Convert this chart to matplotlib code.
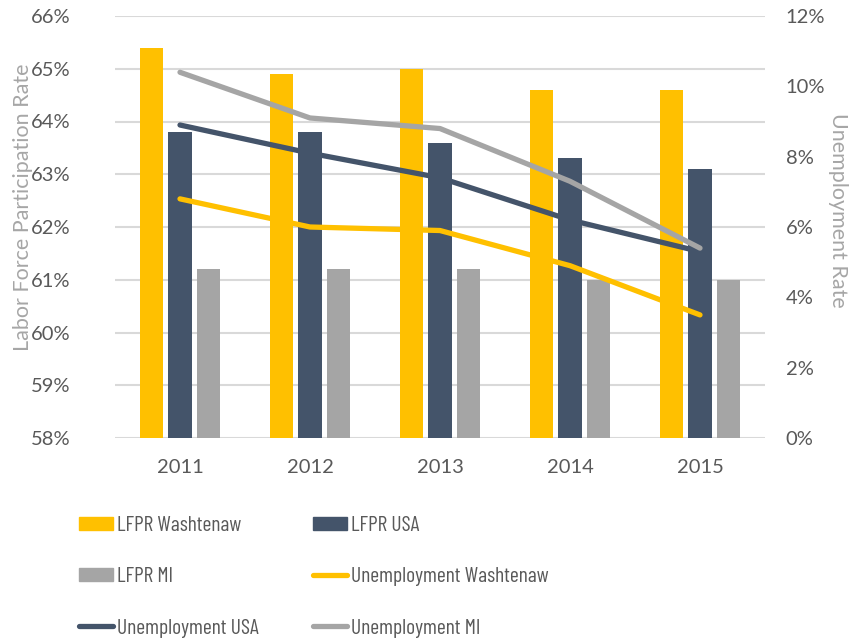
import matplotlib
matplotlib.use("Agg")
import matplotlib.pyplot as plt
import numpy as np
from matplotlib.patches import Patch
from matplotlib.lines import Line2D

years = ["2011", "2012", "2013", "2014", "2015"]
lfpr_washtenaw = [65.4, 64.9, 65.0, 64.6, 64.6]
lfpr_usa = [63.8, 63.8, 63.6, 63.3, 63.1]
lfpr_mi = [61.2, 61.2, 61.2, 61.0, 61.0]
unemp_washtenaw = [6.8, 6.0, 5.9, 4.9, 3.5]
unemp_usa = [8.9, 8.1, 7.4, 6.2, 5.3]
unemp_mi = [10.4, 9.1, 8.8, 7.3, 5.4]

c_yellow = "#FFC000"
c_dark = "#44546A"
c_gray = "#A5A5A5"
txt = "#595959"
lbl = "#A6A6A6"

plt.rcParams['font.family'] = ['Lato', 'DejaVu Sans']

fig = plt.figure(figsize=(8.64, 6.38), dpi=100)
ax = fig.add_axes([115/864, 1-438/638, 650/864, 422/638])
x = np.arange(len(years))
w = 0.177
off = 0.223
ax.bar(x - off, [v - 58 for v in lfpr_washtenaw], w, bottom=58, color=c_yellow, zorder=2)
ax.bar(x, [v - 58 for v in lfpr_usa], w, bottom=58, color=c_dark, zorder=2)
ax.bar(x + off, [v - 58 for v in lfpr_mi], w, bottom=58, color=c_gray, zorder=2)
ax.set_xlim(-0.5, 4.5)
ax.set_ylim(58, 66)
ax.set_yticks(range(58, 67))
ax.set_yticklabels([f"{v}%" for v in range(58, 67)])
ax.set_xticks(x)
ax.set_xticklabels(years)
ax.grid(axis='y', color="#D9D9D9", linewidth=1.5, zorder=0)
ax.set_axisbelow(True)
for s in ax.spines.values():
    s.set_visible(False)
ax.tick_params(axis='both', length=0, labelsize=14.5, colors=txt)
ax.tick_params(axis='x', pad=15)
ax.tick_params(axis='y', pad=32)

ax2 = ax.twinx()
lw = 3.8
ax2.plot(x, unemp_washtenaw, color=c_yellow, lw=lw, solid_capstyle='round', solid_joinstyle='round', zorder=3)
ax2.plot(x, unemp_usa, color=c_dark, lw=lw, solid_capstyle='round', solid_joinstyle='round', zorder=3)
ax2.plot(x, unemp_mi, color=c_gray, lw=lw, solid_capstyle='round', solid_joinstyle='round', zorder=3)
ax2.set_ylim(0, 12)
ax2.set_yticks(range(0, 13, 2))
ax2.set_yticklabels([f"{v}%" for v in range(0, 13, 2)])
for s in ax2.spines.values():
    s.set_visible(False)
ax2.tick_params(axis='y', length=0, labelsize=14.5, colors=txt, pad=15)

fig.text(23/864, 1-207/638, "Labor Force Participation Rate", rotation=90,
         ha='center', va='center', fontsize=15.5, color=lbl)
fig.text(838/864, 1-210/638, "Unemployment Rate", rotation=270,
         ha='center', va='center', fontsize=15.5, color=lbl)

legfont = ['Barlow Condensed', 'Roboto Condensed', 'Lato', 'DejaVu Sans']
col1 = [
    Patch(color=c_yellow, label="LFPR Washtenaw"),
    Patch(color=c_gray, label="LFPR MI"),
    Line2D([], [], color=c_dark, lw=lw, solid_capstyle='round', label="Unemployment USA"),
]
col2 = [
    Patch(color=c_dark, label="LFPR USA"),
    Line2D([], [], color=c_yellow, lw=lw, solid_capstyle='round', label="Unemployment Washtenaw"),
    Line2D([], [], color=c_gray, lw=lw, solid_capstyle='round', label="Unemployment MI"),
]
for handles, x0 in ((col1, 79), (col2, 313)):
    leg = fig.legend(handles=handles, loc='upper left', bbox_to_anchor=(x0/864, 1-516/638),
                     frameon=False, prop={'family': legfont, 'size': 15.5},
                     handlelength=1.6, handleheight=0.58, borderpad=0, borderaxespad=0,
                     handletextpad=0.15, labelspacing=1.5)
    for t in leg.get_texts():
        t.set_color(txt)

fig.savefig("out.png", dpi=100)
